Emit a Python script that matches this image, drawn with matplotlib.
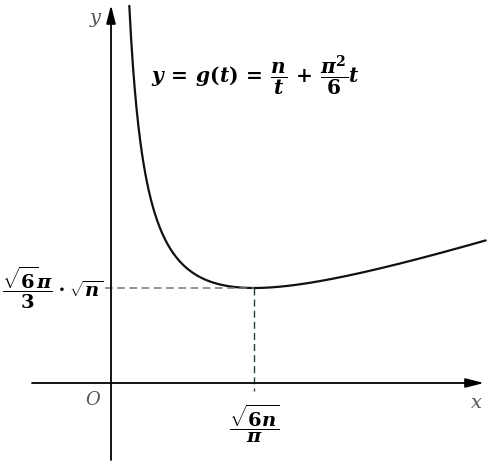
import numpy as np
import matplotlib.pyplot as plt

# curve parameter (shape only depends on scaling, drawn in units of t0 / y0)
n = 1.0
t0 = np.sqrt(6 * n) / np.pi          # minimum point
y0 = np.sqrt(6) * np.pi / 3 * np.sqrt(n)

t_start, t_end = 0.128, 2.62          # in units of t0
t = np.linspace(t_start, t_end, 400) * t0
g = n / t + np.pi ** 2 / 6 * t

formula = r'$y\,=\,g(t)\,=\,\dfrac{n}{t}\,+\,\dfrac{\pi^2}{6}t$'
ylabel_min = r'$\dfrac{\sqrt{6}\pi}{3}\cdot\sqrt{n}$'
xlabel_min = r'$\dfrac{\sqrt{6n}}{\pi}$'

plt.rcParams['mathtext.fontset'] = 'custom'
plt.rcParams['mathtext.it'] = 'DejaVu Serif:italic:bold'
plt.rcParams['mathtext.rm'] = 'DejaVu Serif:bold'
plt.rcParams['mathtext.bf'] = 'DejaVu Serif:bold'

fig = plt.figure(figsize=(5, 4.65), dpi=100)
ax = fig.add_axes([0, 0, 1, 1])
# 1 unit of t0 = 143 px, 1 unit of y0 = 95 px, origin at pixel (111, 383)
ax.set_xlim(-111 / 143, 389 / 143)
ax.set_ylim(-82 / 95, 383 / 95)
ax.axis('off')

X = t / t0
Y = g / y0
ax.plot(X, Y, color='#111111', lw=1.6, solid_capstyle='round')

# axes with arrows
ax.annotate('', xy=(373 / 143, 0), xytext=(-79 / 143, 0),
            arrowprops=dict(arrowstyle='-|>,head_length=1.1,head_width=0.28',
                            color='black', lw=1.3, shrinkA=0, shrinkB=0))
ax.annotate('', xy=(0, 378 / 95), xytext=(0, -77 / 95),
            arrowprops=dict(arrowstyle='-|>,head_length=1.1,head_width=0.28',
                            color='black', lw=1.3, shrinkA=0, shrinkB=0))

# dashed guides to the minimum
ax.plot([-6 / 143, 1], [1, 1], color='#777777', lw=1.1, ls=(0, (5, 3)))
ax.plot([1, 1], [1, -8 / 95], color='#1f3b3b', lw=1.0, ls=(0, (5, 3)))

# labels
ax.text(-16 / 143, 365 / 95, 'y', fontsize=14, family='DejaVu Serif',
        style='italic', color='#555555', ha='center', va='center')
ax.text(365 / 143, -20 / 95, 'x', fontsize=14, family='DejaVu Serif',
        style='italic', color='#555555', ha='center', va='center')
ax.text(-18 / 143, -17 / 95, 'O', fontsize=13, family='DejaVu Serif',
        style='italic', color='#555555', ha='center', va='center')

ax.text(40 / 143, 307 / 95, formula, fontsize=14.5, ha='left', va='center')
ax.text(-58 / 143, 95 / 95, ylabel_min, fontsize=14, ha='center', va='center')
ax.text(1, -41 / 95, xlabel_min, fontsize=14, ha='center', va='center')

fig.savefig('out.png', dpi=100)
